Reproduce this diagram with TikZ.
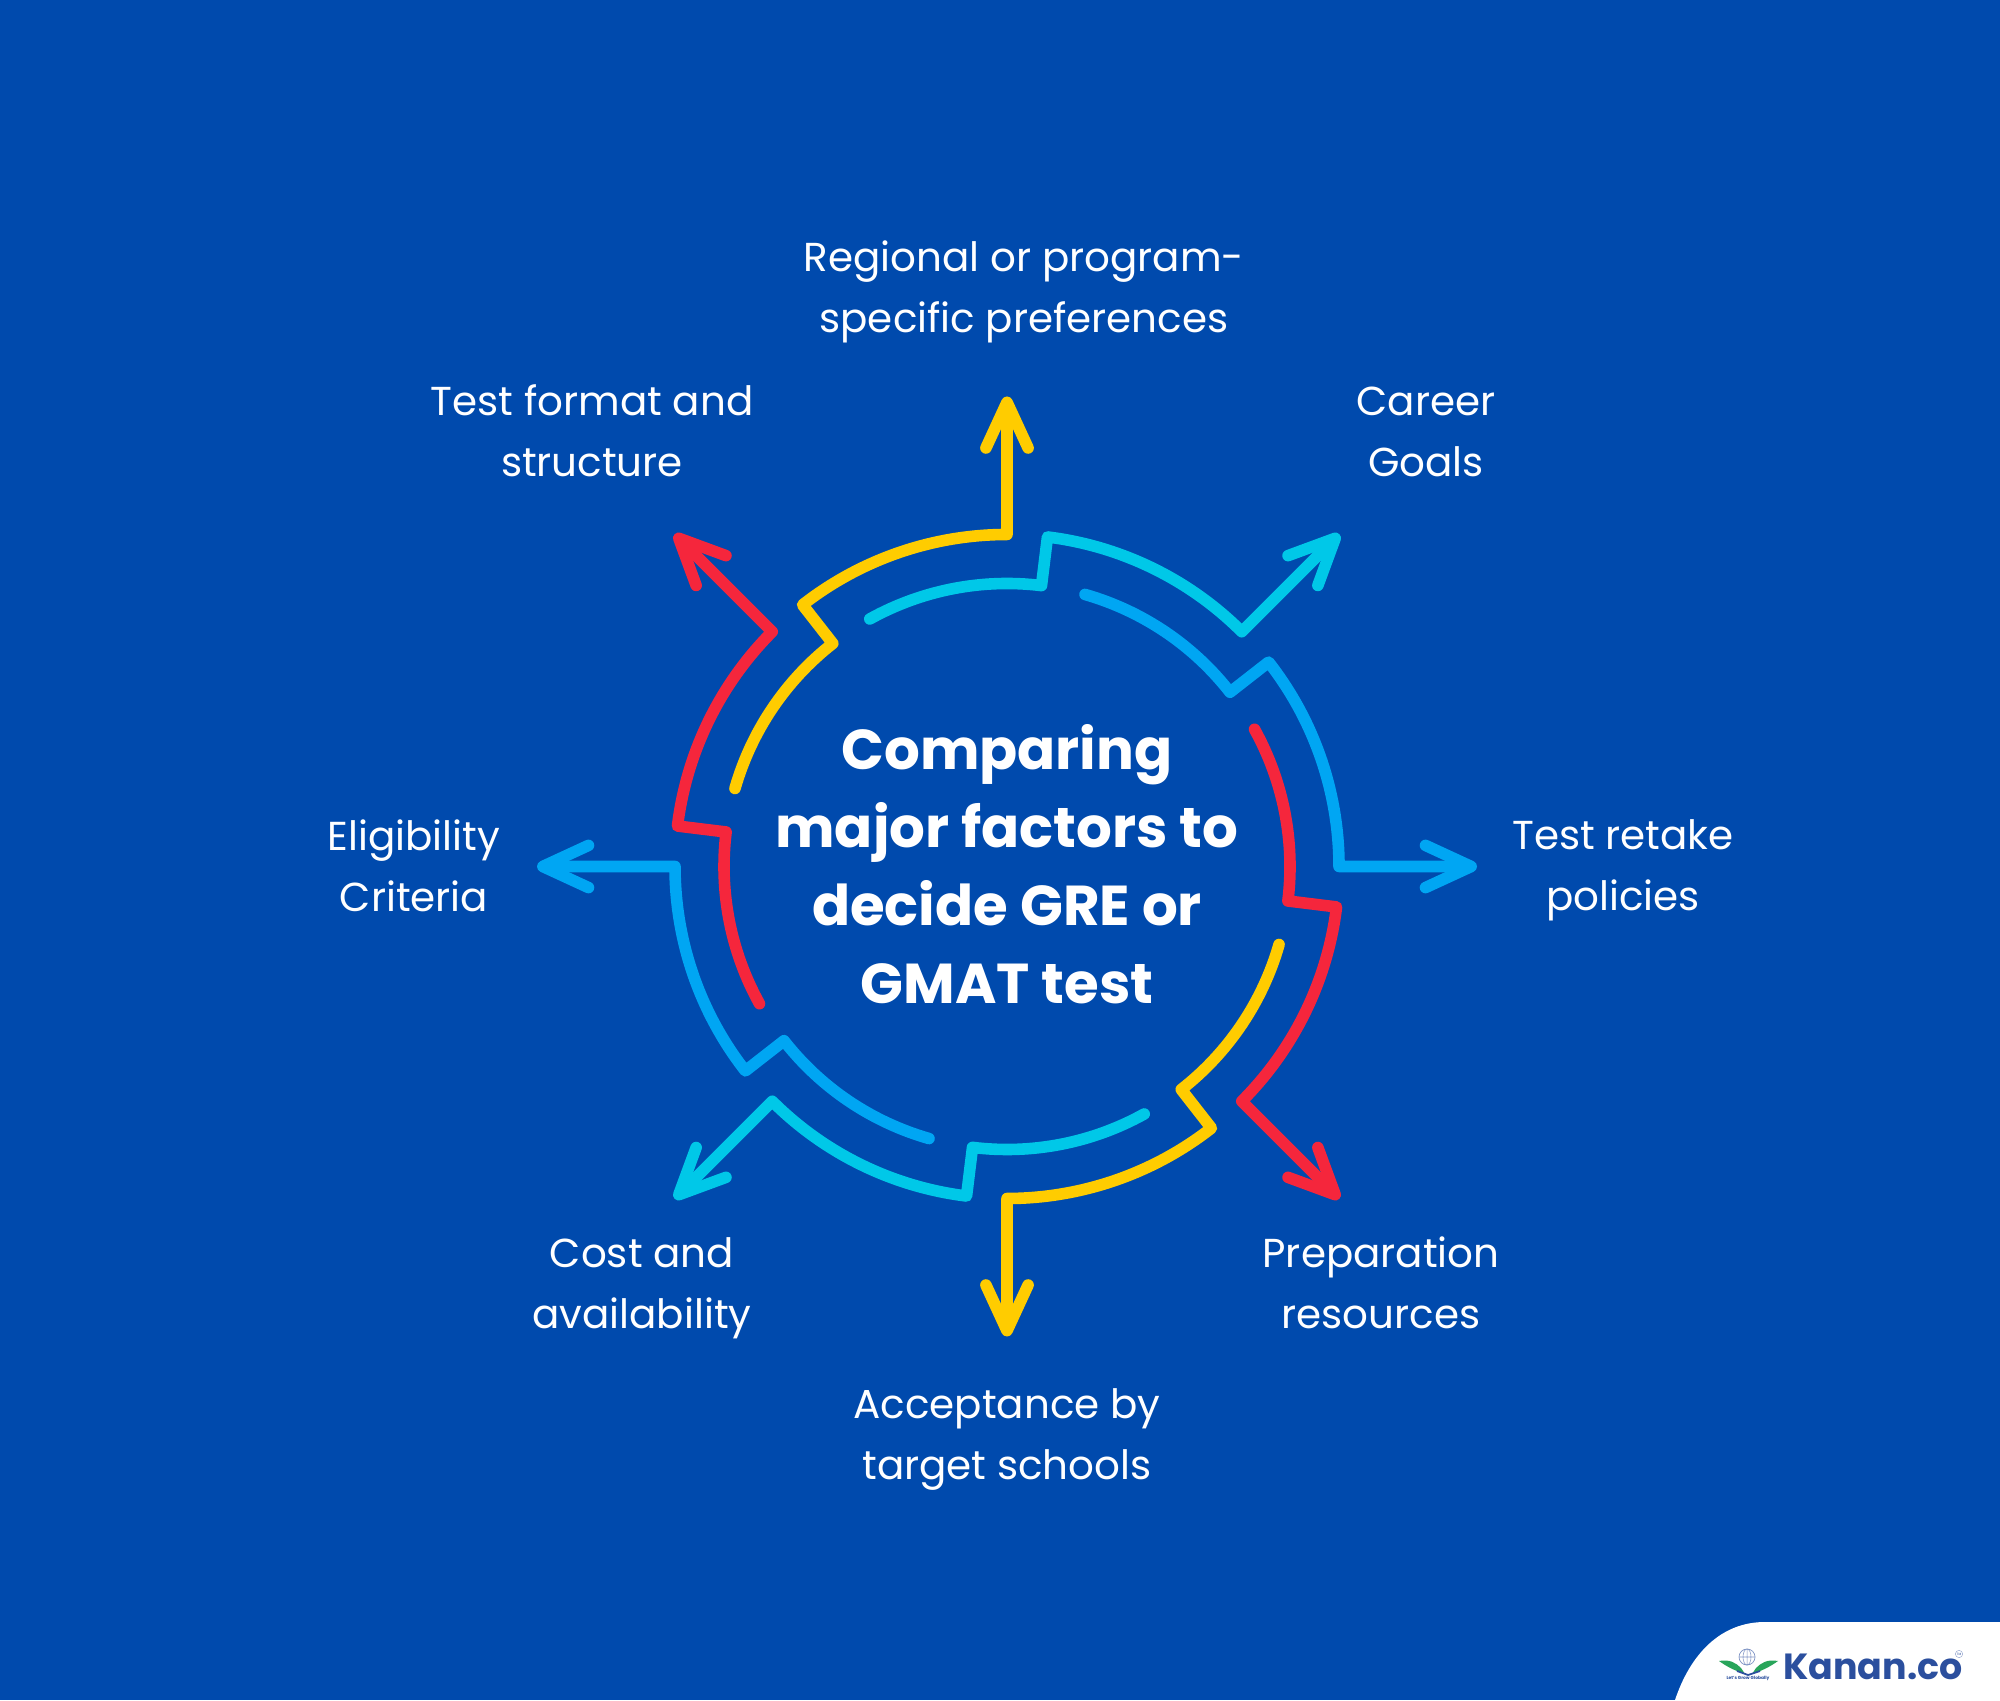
\documentclass[tikz,border=0pt]{standalone}
\usepackage{fontspec}
\setmainfont{Poppins}
\usepackage{xcolor}
\usetikzlibrary{arrows.meta}
\definecolor{pageblue}{RGB}{0,74,173}
\definecolor{arcyellow}{RGB}{255,204,0}
\definecolor{arccyan}{RGB}{0,200,232}
\definecolor{arcblue}{RGB}{0,166,243}
\definecolor{arcred}{RGB}{245,38,60}
\definecolor{logoblue}{RGB}{43,79,158}
\definecolor{logogreen}{RGB}{40,165,90}
\tikzset{>={Straight Barb[length=26pt,width=24pt,round]}}
\tikzset{
  spiral/.style={line width=6.6pt,line cap=round,line join=round},
  factor/.style={text=white,align=center,font=\fontsize{23}{34.7}\selectfont},
}

\begin{document}
\begin{tikzpicture}[x=0.02cm,y=0.02cm]
    \useasboundingbox (0,0) rectangle (2000,1700);
    \fill[pageblue] (0,0) rectangle (2000,1700);
    \coordinate (hub) at (1007,833.5);
    % one shape, turned eight times
    \foreach \clr [count=\i from 0] in {arcyellow,arccyan,arcblue,arcred,arcyellow,arccyan,arcblue,arcred} {
        \begin{scope}[shift={(hub)},rotate=-45*\i]
            \draw[->,spiral,\clr] (164:283) arc[start angle=164,end angle=128,radius=283]
                -- (128:332) arc[start angle=128,end angle=90,radius=332] -- (90:470);
        \end{scope}
    }
    \node[text=white,align=center,font=\fontsize{32}{44.4}\selectfont\bfseries] (title) at (1007,836)
        {Comparing\\major factors to\\decide GRE or\\GMAT test};
    \node[factor] (regional) at (1024,1408) {Regional or program-\\specific preferences};
    \node[factor] (career) at (1426,1268) {Career\\Goals};
    \node[factor] (retake) at (1623,830) {Test retake\\policies};
    \node[factor] (resources) at (1381,417.5) {Preparation\\resources};
    \node[factor] (schools) at (1007,260.5) {Acceptance by\\target schools};
    \node[factor] (cost) at (642,412) {Cost and\\availability};
    \node[factor] (eligibility) at (414,834) {Eligibility\\Criteria};
    \node[factor] (format) at (592,1269) {Test format and\\structure};
    % logo corner
    \fill[white] (2000,0) -- (1675,0) .. controls (1690,45) and (1720,78) .. (1765,78) -- (2000,78) -- cycle;
    \fill[logogreen] (1719,39) .. controls (1730,41) and (1736,37) .. (1741,32) -- (1745,26) .. controls (1733,30) and (1726,34) .. (1719,39) -- cycle;
    \fill[logogreen] (1778,39) .. controls (1767,41) and (1761,37) .. (1756,32) -- (1752,26) .. controls (1764,30) and (1771,34) .. (1778,39) -- cycle;
    \draw[logoblue,line width=1pt] (1737,29) -- (1748,25) -- (1760,29);
    \draw[logoblue!60,fill=white,line width=0.4pt] (1747,43) circle (8);
    \draw[logoblue!60,line width=0.3pt] (1739,43) -- (1755,43) (1747,35) -- (1747,51) (1747,43) ellipse (4 and 8);
    \node[text=logoblue,font=\fontsize{2.5}{3}\selectfont\bfseries,inner sep=0pt] (tagline) at (1748,22) {Let's Grow Globally};
    \node[text=logoblue,font=\fontsize{20.7}{24}\selectfont\bfseries,inner sep=0pt,anchor=base west] (brand) at (1783,21) {Kanan.co};
    \node[draw=logoblue!60,circle,line width=0.2pt,text=logoblue,font=\fontsize{1.8}{2}\selectfont,inner sep=0.5pt] (tm) at (1959,46) {TM};
\end{tikzpicture}
\end{document}
